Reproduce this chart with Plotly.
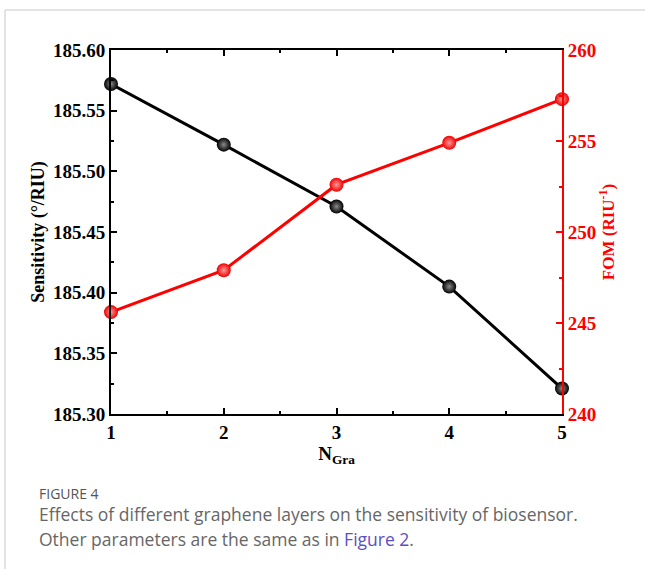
import plotly.graph_objects as go

n_gra = [1, 2, 3, 4, 5]
sensitivity = [185.572, 185.522, 185.471, 185.405, 185.321]
fom = [245.6, 247.9, 252.6, 254.9, 257.3]

W, H = 645, 569
L, R, T, B = 111, 562, 50, 414

def px(x):
    return (x - L) / (R - L)

def py(y):
    return (B - y) / (B - T)

serif = "Liberation Serif"
tickfont = dict(family=serif, size=19, color="black", weight="bold")

fig = go.Figure()
fig.add_trace(go.Scatter(
    x=n_gra, y=sensitivity, mode="lines+markers", cliponaxis=False,
    line=dict(color="black", width=3),
    marker=dict(size=14, color="black",
                gradient=dict(type="radial", color="#8a8a8a"),
                line=dict(width=0)),
    showlegend=False))
fig.add_trace(go.Scatter(
    x=n_gra, y=fom, mode="lines+markers", yaxis="y2", cliponaxis=False,
    line=dict(color="#ff0000", width=3),
    marker=dict(size=14, color="#ee0000",
                gradient=dict(type="radial", color="#ff9a9a"),
                line=dict(width=0)),
    showlegend=False))

fig.update_layout(
    width=W, height=H,
    margin=dict(l=L, r=W - R, t=T, b=H - B, pad=0),
    paper_bgcolor="white", plot_bgcolor="white",
    xaxis=dict(
        range=[1, 5], dtick=1, tick0=1, showgrid=False, zeroline=False,
        showline=True, linecolor="black", linewidth=2, mirror="ticks",
        ticks="inside", ticklen=6, tickwidth=2, tickcolor="black",
        minor=dict(ticks="inside", ticklen=3, tickwidth=2, dtick=0.5, tickcolor="black"),
        tickfont=tickfont, ticklabelstandoff=0,
        title=dict(text="N<sub>Gra</sub>", font=dict(family=serif, size=19, color="black", weight="bold"), standoff=0),
    ),
    yaxis=dict(
        range=[185.30, 185.60], dtick=0.05, tick0=185.30, tickformat=".2f",
        showgrid=False, zeroline=False,
        showline=True, linecolor="black", linewidth=2,
        ticks="inside", ticklen=6, tickwidth=2, tickcolor="black",
        minor=dict(ticks="inside", ticklen=3, tickwidth=2, dtick=0.025, tickcolor="black"),
        tickfont=tickfont,
        title=dict(text="Sensitivity (°/RIU)", font=dict(family=serif, size=18, color="black", weight="bold"), standoff=4),
    ),
    yaxis2=dict(
        overlaying="y", side="right",
        range=[240, 260], dtick=5, tick0=240, showgrid=False, zeroline=False,
        showline=True, linecolor="#ff0000", linewidth=2,
        ticks="inside", ticklen=6, tickwidth=2, tickcolor="#ff0000",
        minor=dict(ticks="inside", ticklen=3, tickwidth=2, dtick=2.5, tickcolor="#ff0000"),
        tickfont=dict(family=serif, size=19, color="#ff0000", weight="bold"),
        title=dict(text="FOM (RIU<sup>-1</sup>)", font=dict(family=serif, size=17, color="#ff0000", weight="bold"), standoff=6),
    ),
)

# card border
fig.add_shape(type="line", xref="paper", yref="paper",
              x0=px(5), x1=px(W + 5), y0=py(10), y1=py(10),
              line=dict(color="#c8c8c8", width=1))
fig.add_shape(type="line", xref="paper", yref="paper",
              x0=px(5), x1=px(5), y0=py(10), y1=py(H + 5),
              line=dict(color="#c8c8c8", width=1))

cap = "Open Sans"
fig.add_annotation(xref="paper", yref="paper", x=px(37), y=py(493),
                   xanchor="left", yanchor="middle", showarrow=False,
                   text="FIGURE 4", font=dict(family=cap, size=14, color="#555555"))
fig.add_annotation(xref="paper", yref="paper", x=px(37), y=py(514),
                   xanchor="left", yanchor="middle", showarrow=False,
                   text="Effects of different graphene layers on the sensitivity of biosensor.",
                   font=dict(family=cap, size=17.5, color="#666666"))
fig.add_annotation(xref="paper", yref="paper", x=px(37), y=py(539),
                   xanchor="left", yanchor="middle", showarrow=False,
                   text="Other parameters are the same as in <span style='color:#5b4fc4'>Figure 2</span>.",
                   font=dict(family=cap, size=17.5, color="#666666"))

fig.write_html("out.html")
